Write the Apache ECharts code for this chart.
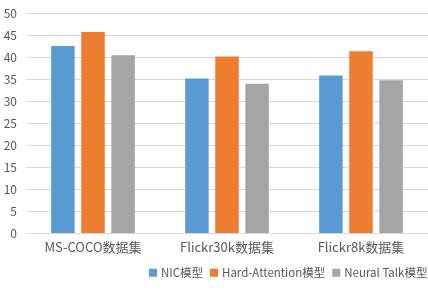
<!DOCTYPE html>
<html>
<head>
<meta charset="utf-8">
<script src="https://cdn.jsdelivr.net/npm/echarts@6/dist/echarts.min.js"></script>
<style>
  html, body { margin: 0; padding: 0; background: #fff; }
  #chart { width: 428px; height: 290px; }
</style>
</head>
<body>
<div id="chart"></div>
<script>
// 数据集
const categories = ['MS-COCO数据集', 'Flickr30k数据集', 'Flickr8k数据集'];
const seriesNames = ['NIC模型', 'Hard-Attention模型', 'Neural Talk模型'];
const nicValues = [42.5, 35.1, 35.8];
const hardAttnValues = [45.7, 40.1, 41.3];
const neuralTalkValues = [40.4, 33.9, 34.7];
const colors = ['#5B9BD5', '#ED7D31', '#A5A5A5'];

const font = '"Noto Sans CJK SC", "Noto Sans", sans-serif';

const myChart = echarts.init(document.getElementById('chart'));

const option = {
  animation: false,
  textStyle: { fontFamily: font },
  legend: {
    data: seriesNames,
    left: 149,
    top: 267,
    width: 300,
    padding: 0,
    itemWidth: 8,
    itemHeight: 8,
    itemGap: 7,
    icon: 'rect',
    textStyle: { color: '#595959', fontSize: 11.5, fontFamily: font, padding: [0, 0, 0, -1] }
  },
  grid: {
    left: 26,
    top: 13,
    width: 405,
    height: 220,
    containLabel: false
  },
  xAxis: {
    type: 'category',
    data: categories,
    axisLine: { lineStyle: { color: '#D9D9D9' } },
    axisTick: { show: false },
    axisLabel: { color: '#595959', fontSize: 13, margin: 8, fontFamily: font }
  },
  yAxis: {
    type: 'value',
    min: 0,
    max: 50,
    interval: 5,
    axisLine: { show: false },
    axisTick: { show: false },
    splitLine: { lineStyle: { color: '#D9D9D9' } },
    axisLabel: { color: '#595959', fontSize: 12, margin: 9, fontFamily: font }
  },
  series: [
    { name: seriesNames[0], type: 'bar', data: nicValues, barWidth: 23.5, barGap: '28%', itemStyle: { color: colors[0] } },
    { name: seriesNames[1], type: 'bar', data: hardAttnValues, barWidth: 23.5, barGap: '28%', itemStyle: { color: colors[1] } },
    { name: seriesNames[2], type: 'bar', data: neuralTalkValues, barWidth: 23.5, barGap: '28%', itemStyle: { color: colors[2] } }
  ]
};

myChart.setOption(option);
</script>
</body>
</html>
